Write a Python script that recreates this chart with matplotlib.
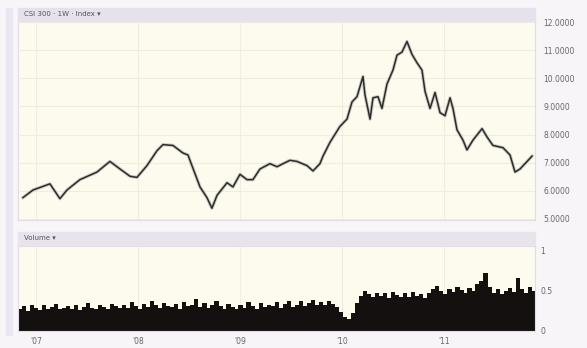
import matplotlib
matplotlib.use("Agg")
import matplotlib.pyplot as plt
import numpy as np
from matplotlib.patches import Rectangle

# ---- data ----
price_t = [2006.873, 2006.971, 2007.137, 2007.235, 2007.304, 2007.431, 2007.598, 2007.725,
           2007.824, 2007.922, 2007.990, 2008.088, 2008.186, 2008.245, 2008.343, 2008.441,
           2008.490, 2008.608, 2008.676, 2008.725, 2008.775, 2008.873, 2008.931, 2009.000,
           2009.069, 2009.127, 2009.196, 2009.294, 2009.363, 2009.422, 2009.490, 2009.559,
           2009.657, 2009.716, 2009.784, 2009.814, 2009.882, 2009.980, 2010.049, 2010.098,
           2010.147, 2010.206, 2010.225, 2010.275, 2010.304, 2010.353, 2010.392, 2010.441,
           2010.500, 2010.539, 2010.588, 2010.637, 2010.686, 2010.735, 2010.784, 2010.814,
           2010.863, 2010.912, 2010.961, 2011.010, 2011.059, 2011.088, 2011.127, 2011.186,
           2011.225, 2011.284, 2011.373, 2011.422, 2011.480, 2011.578, 2011.647, 2011.696,
           2011.745, 2011.794, 2011.863]
price = [5.75, 6.02, 6.24, 5.71, 6.02, 6.39, 6.66, 7.04,
         6.77, 6.51, 6.47, 6.89, 7.42, 7.64, 7.61, 7.34,
         7.27, 6.13, 5.75, 5.37, 5.83, 6.28, 6.13, 6.58,
         6.39, 6.39, 6.77, 6.96, 6.85, 6.96, 7.08, 7.04,
         6.89, 6.70, 6.96, 7.23, 7.72, 8.29, 8.55, 9.16,
         9.35, 10.07, 9.42, 8.55, 9.31, 9.35, 8.93, 9.80,
         10.30, 10.83, 10.94, 11.32, 10.86, 10.56, 10.30, 9.54,
         8.93, 9.50, 8.78, 8.67, 9.31, 8.93, 8.17, 7.80,
         7.45, 7.80, 8.21, 7.91, 7.61, 7.53, 7.27, 6.66,
         6.77, 6.96, 7.23]

volume = [0.27, 0.31, 0.25, 0.33, 0.29, 0.26, 0.32, 0.28, 0.30, 0.34, 0.27, 0.29, 0.31,
          0.28, 0.33, 0.26, 0.30, 0.35, 0.29, 0.27, 0.32, 0.30, 0.28, 0.34, 0.31, 0.29,
          0.33, 0.29, 0.36, 0.31, 0.28, 0.34, 0.30, 0.37, 0.32, 0.29, 0.35, 0.31,
          0.30, 0.34, 0.28, 0.36, 0.31, 0.33, 0.40, 0.30, 0.35, 0.29, 0.33, 0.38, 0.31,
          0.28, 0.34, 0.30, 0.27, 0.33, 0.29, 0.36, 0.31, 0.28, 0.35, 0.30, 0.33,
          0.31, 0.36, 0.29, 0.34, 0.38, 0.30, 0.33, 0.37, 0.31, 0.35, 0.39, 0.32, 0.36, 0.33, 0.38,
          0.34, 0.30, 0.24, 0.17, 0.15, 0.22, 0.35, 0.44,
          0.50, 0.46, 0.42, 0.48, 0.44, 0.47, 0.41, 0.49, 0.45, 0.43,
          0.47, 0.42, 0.49, 0.44, 0.46, 0.41, 0.48, 0.52, 0.56, 0.50,
          0.46, 0.53, 0.49, 0.55, 0.51, 0.47, 0.54, 0.50, 0.58, 0.62, 0.72, 0.55,
          0.48, 0.52, 0.46, 0.50, 0.54, 0.49, 0.66, 0.52, 0.47, 0.55, 0.50]

price_ticks = [5, 6, 7, 8, 9, 10, 11, 12]
price_tick_labels = ["5.0000", "6.0000", "7.0000", "8.0000", "9.0000", "10.0000", "11.0000", "12.0000"]
vol_ticks = [0, 0.5, 1]
vol_tick_labels = ["0", "0.5", "1"]
year_ticks = [2007, 2008, 2009, 2010, 2011]
year_labels = ["'07", "'08", "'09", "'10", "'11"]
title_text = "CSI 300 · 1W · Index ▾"
vol_title = "Volume ▾"

# ---- figure ----
W, H = 587, 348
fig = plt.figure(figsize=(W / 100, H / 100), dpi=100)
fig.patch.set_facecolor("#f8f5f8")

def fx(px):
    return px / W

def fy(py):
    return 1 - py / H

# decorative bands
fig.patches.append(Rectangle((fx(6), fy(335)), fx(12) - fx(6), fy(8) - fy(335),
                             transform=fig.transFigure, color="#ebe6ef", zorder=0))
fig.patches.append(Rectangle((fx(18), fy(21)), fx(535) - fx(18), fy(8) - fy(21),
                             transform=fig.transFigure, color="#e6e1ea", zorder=0))
fig.patches.append(Rectangle((fx(18), fy(245)), fx(535) - fx(18), fy(232) - fy(245),
                             transform=fig.transFigure, color="#e9e4ec", zorder=0))
fig.text(fx(24), fy(14.5), title_text, fontsize=5, color="#555555", va="center", ha="left")
fig.text(fx(24), fy(238.5), vol_title, fontsize=5, color="#555555", va="center", ha="left")

xmin, xmax = 2006.824, 2011.892
plot_bg = "#fdfaee"

# price panel
ax1 = fig.add_axes([fx(18), fy(220), fx(535) - fx(18), fy(21) - fy(220)])
ax1.set_facecolor(plot_bg)
ax1.plot(price_t, price, color="#999999", lw=2.4, alpha=0.5, solid_joinstyle="round")
ax1.plot(price_t, price, color="#2b2b2b", lw=1.1, solid_joinstyle="round")
ax1.set_xlim(xmin, xmax)
ax1.set_ylim(4.95, 12.05)
ax1.yaxis.tick_right()
ax1.set_yticks(price_ticks)
ax1.set_yticklabels(price_tick_labels, fontsize=5.5, color="#666666")
ax1.set_xticks(year_ticks)
ax1.set_xticklabels([])
ax1.tick_params(axis="both", length=0, pad=6)
ax1.grid(True, color="#f1ecdf", lw=0.8)
for s in ax1.spines.values():
    s.set_color("#e2dde5")
    s.set_linewidth(0.8)

# volume panel
ax2 = fig.add_axes([fx(18), fy(331), fx(535) - fx(18), fy(246) - fy(331)])
ax2.set_facecolor(plot_bg)
vt = np.linspace(2006.84, 2011.88, len(volume))
ax2.bar(vt, volume, width=(vt[1] - vt[0]) * 1.05, color="#151010", align="center")
ax2.set_xlim(xmin, xmax)
ax2.set_ylim(0, 1.06)
ax2.yaxis.tick_right()
ax2.set_yticks(vol_ticks)
ax2.set_yticklabels(vol_tick_labels, fontsize=5.5, color="#666666")
ax2.set_xticks(year_ticks)
ax2.set_xticklabels(year_labels, fontsize=5.5, color="#666666")
ax2.tick_params(axis="both", length=0, pad=4)
ax2.grid(True, axis="x", color="#f1ecdf", lw=0.8)
ax2.set_axisbelow(True)
for s in ax2.spines.values():
    s.set_color("#e2dde5")
    s.set_linewidth(0.8)

fig.savefig("out.png", dpi=100, facecolor=fig.get_facecolor())
